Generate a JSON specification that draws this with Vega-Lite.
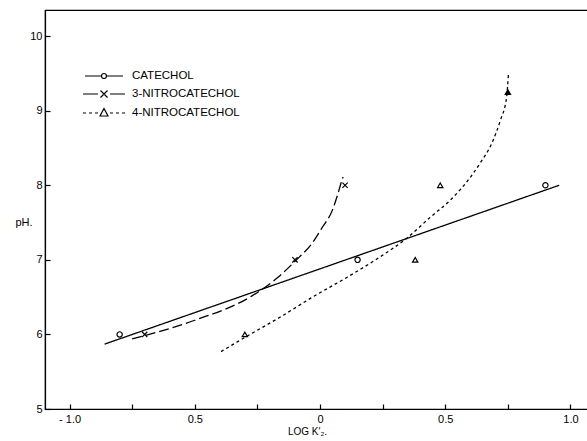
{
  "$schema": "https://vega.github.io/schema/vega-lite/v6.json",
  "width": 544,
  "height": 399,
  "autosize": {"type": "none"},
  "padding": {"left": 45, "top": 10, "right": 0, "bottom": 32},
  "background": "white",
  "config": {
    "view": {"stroke": "black", "strokeWidth": 1.2},
    "font": "Liberation Sans",
    "axis": {"grid": false, "domainColor": "black", "domainWidth": 1.2, "tickColor": "black", "tickWidth": 1.2, "labelColor": "black", "titleColor": "black", "labelFont": "Liberation Sans", "titleFont": "Liberation Sans", "titleFontWeight": "normal"}
  },
  "datasets": {
    "points": [
      {"series": "CATECHOL", "x": -0.8, "y": 6.0},
      {"series": "CATECHOL", "x": 0.15, "y": 7.0},
      {"series": "CATECHOL", "x": 0.9, "y": 8.0},
      {"series": "3-NITROCATECHOL", "x": -0.7, "y": 6.0},
      {"series": "3-NITROCATECHOL", "x": -0.1, "y": 7.0},
      {"series": "3-NITROCATECHOL", "x": 0.1, "y": 8.0},
      {"series": "4-NITROCATECHOL", "x": -0.3, "y": 6.0},
      {"series": "4-NITROCATECHOL", "x": 0.38, "y": 7.0},
      {"series": "4-NITROCATECHOL", "x": 0.48, "y": 8.0},
      {"series": "4-NITROCATECHOL", "x": 0.75, "y": 9.25}
    ],
    "curves": [
      {"series": "CATECHOL", "x": -0.86, "y": 5.87},
      {"series": "CATECHOL", "x": 0.955, "y": 8.0},
      {"series": "3-NITROCATECHOL", "x": -0.75, "y": 5.94},
      {"series": "3-NITROCATECHOL", "x": -0.5, "y": 6.19},
      {"series": "3-NITROCATECHOL", "x": -0.27, "y": 6.52},
      {"series": "3-NITROCATECHOL", "x": -0.17, "y": 6.76},
      {"series": "3-NITROCATECHOL", "x": -0.1, "y": 6.98},
      {"series": "3-NITROCATECHOL", "x": -0.03, "y": 7.23},
      {"series": "3-NITROCATECHOL", "x": 0.01, "y": 7.44},
      {"series": "3-NITROCATECHOL", "x": 0.05, "y": 7.67},
      {"series": "3-NITROCATECHOL", "x": 0.07, "y": 7.87},
      {"series": "3-NITROCATECHOL", "x": 0.085, "y": 8.04},
      {"series": "3-NITROCATECHOL", "x": 0.092, "y": 8.11},
      {"series": "4-NITROCATECHOL", "x": -0.395, "y": 5.77},
      {"series": "4-NITROCATECHOL", "x": -0.3, "y": 5.96},
      {"series": "4-NITROCATECHOL", "x": -0.16, "y": 6.23},
      {"series": "4-NITROCATECHOL", "x": -0.03, "y": 6.5},
      {"series": "4-NITROCATECHOL", "x": 0.11, "y": 6.77},
      {"series": "4-NITROCATECHOL", "x": 0.24, "y": 7.04},
      {"series": "4-NITROCATECHOL", "x": 0.35, "y": 7.3},
      {"series": "4-NITROCATECHOL", "x": 0.44, "y": 7.57},
      {"series": "4-NITROCATECHOL", "x": 0.52, "y": 7.8},
      {"series": "4-NITROCATECHOL", "x": 0.57, "y": 7.98},
      {"series": "4-NITROCATECHOL", "x": 0.64, "y": 8.3},
      {"series": "4-NITROCATECHOL", "x": 0.687, "y": 8.57},
      {"series": "4-NITROCATECHOL", "x": 0.72, "y": 8.87},
      {"series": "4-NITROCATECHOL", "x": 0.745, "y": 9.18},
      {"series": "4-NITROCATECHOL", "x": 0.752, "y": 9.48}
    ]
  },
  "layer": [
    {
      "data": {"name": "curves"},
      "mark": {"type": "line", "stroke": "black", "strokeWidth": 1.3, "interpolate": "monotone"},
      "encoding": {
        "x": {
          "field": "x", "type": "quantitative", "title": "LOG  K′₂.",
          "scale": {"domain": [-1.098, 1.074], "nice": false, "zero": false},
          "axis": {
            "values": [-1, -0.75, -0.5, -0.25, 0, 0.25, 0.5, 0.75, 1],
            "labelExpr": "datum.value == -1 ? '- 1.0' : datum.value == 0 ? '0' : (abs(datum.value) == 0.5 || abs(datum.value) == 1) ? format(abs(datum.value), '.1f') : ''",
            "tickSize": -5,
            "labelPadding": 9,
            "labelFontSize": 11,
            "labelFlush": false,
            "labelOverlap": false,
            "titleFontSize": 10,
            "titleX": 262,
            "titleY": 22,
            "titleBaseline": "middle",
            "titleAnchor": "middle"
          }
        },
        "y": {
          "field": "y", "type": "quantitative", "title": "pH.",
          "scale": {"domain": [5, 10.35], "nice": false, "zero": false},
          "axis": {
            "values": [5, 5.5, 6, 6.5, 7, 7.5, 8, 8.5, 9, 9.5, 10],
            "labelExpr": "datum.value % 1 == 0 ? format(datum.value, 'd') : ''",
            "tickSize": -5,
            "labelPadding": 8,
            "labelFontSize": 11,
            "labelFlush": false,
            "labelOverlap": false,
            "titleAngle": 0,
            "titleX": -30,
            "titleY": 212,
            "titleAlign": "left",
            "titleBaseline": "middle",
            "titleFontSize": 11
          }
        },
        "strokeDash": {
          "field": "series", "type": "nominal",
          "scale": {"domain": ["CATECHOL", "3-NITROCATECHOL", "4-NITROCATECHOL"], "range": [[1, 0], [10, 4], [3, 3]]},
          "legend": null
        }
      }
    },
    {
      "data": {"name": "points"},
      "mark": {"type": "point", "filled": true, "stroke": "black", "strokeWidth": 1.2, "opacity": 1},
      "encoding": {
        "x": {"field": "x", "type": "quantitative", "title": "LOG  K′₂."},
        "y": {"field": "y", "type": "quantitative", "title": "pH."},
        "shape": {
          "field": "series", "type": "nominal",
          "scale": {"domain": ["CATECHOL", "3-NITROCATECHOL", "4-NITROCATECHOL"], "range": ["circle", "M-1,-1L1,1M-1,1L1,-1", "triangle-up"]},
          "legend": null
        },
        "size": {"value": 28},
        "fill": {"condition": {"test": "datum.y > 9", "value": "black"}, "value": "white"}
      }
    },
    {
      "data": {"name": "points"},
      "mark": {"type": "point", "opacity": 0},
      "encoding": {
        "x": {"field": "x", "type": "quantitative", "title": "LOG  K′₂."},
        "y": {"field": "y", "type": "quantitative", "title": "pH."},
        "shape": {
          "field": "series", "type": "nominal",
          "scale": {
            "domain": ["CATECHOL", "3-NITROCATECHOL", "4-NITROCATECHOL"],
            "range": [
              "M-3.8,0H-0.5M0.5,0H3.8M0.5,0A0.5,0.5,0,1,1,-0.5,0A0.5,0.5,0,1,1,0.5,0",
              "M-4.2,0H-1.2M1.2,0H4.2M-0.7,-0.7L0.7,0.7M-0.7,0.7L0.7,-0.7",
              "M-4.2,0H-3.6M-3,0H-2.4M-1.8,0H-1.2M1.2,0H1.8M2.4,0H3M3.6,0H4.2M0,-0.9L0.8,0.6L-0.8,0.6Z"
            ]
          },
          "legend": {
            "orient": "none",
            "legendX": 53,
            "legendY": 60,
            "title": null,
            "padding": 0,
            "symbolSize": 100,
            "symbolStrokeColor": "black",
            "symbolFillColor": "transparent",
            "symbolStrokeWidth": 1.2,
            "symbolOpacity": 1,
            "labelFontSize": 11.5,
            "labelFont": "Liberation Sans",
            "labelColor": "black",
            "labelOffset": 22,
            "rowPadding": 6,
            "encode": {"symbols": {"update": {"opacity": {"value": 1}, "fill": {"value": "transparent"}, "stroke": {"value": "black"}}}}
          }
        }
      }
    }
  ],
  "resolve": {"scale": {"shape": "independent"}}
}
